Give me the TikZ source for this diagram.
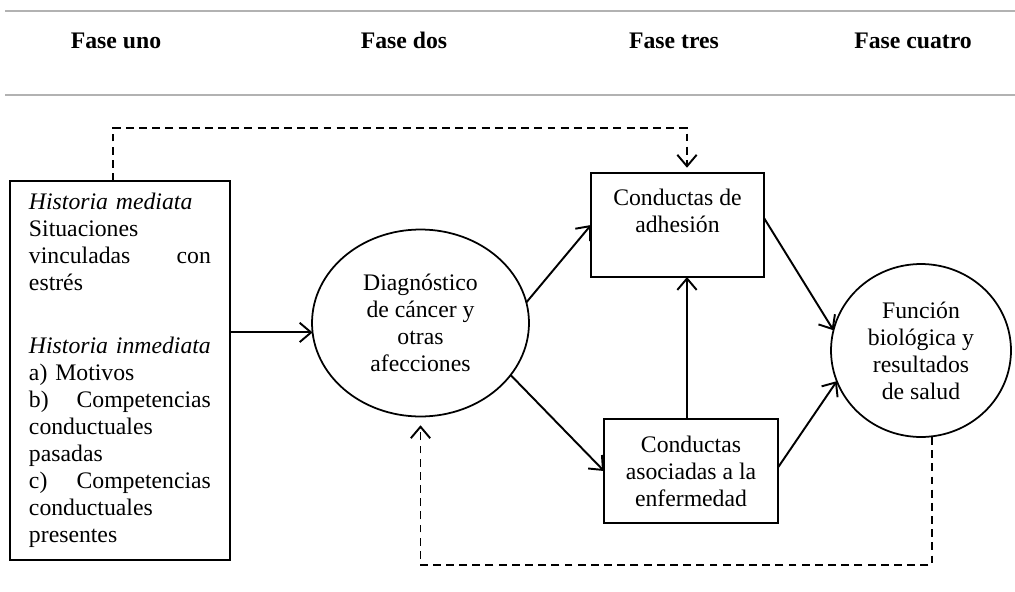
\documentclass[tikz,border=0pt]{standalone}
\usepackage{fontspec}
\setmainfont{Liberation Serif}
\usetikzlibrary{arrows.meta,shapes.geometric}
\begin{document}
\begin{tikzpicture}[x=0.02cm,y=-0.02cm,
  every node/.style={font=\fontsize{13.5}{15.4}\selectfont, inner sep=0pt, outer sep=0pt},
  box/.style={draw, line width=0.9pt, rectangle},
  oval/.style={draw, ellipse, line width=1pt},
  txt/.style={align=center},
  arr/.style={line width=1.1pt, -{Straight Barb[length=6.5pt,width=11pt,line width=1.1pt]}},
  darr/.style={arr, dash pattern=on 4.5pt off 3pt},
  rulel/.style={draw=black!30, line width=1.1pt},
  head/.style={anchor=base, font=\fontsize{13.5}{16}\selectfont\bfseries}]
\useasboundingbox (0,0) rectangle (1015,592);
% header rules
\coordinate (r1a) at (5,11);
\coordinate (r1b) at (1015,11);
\coordinate (r2a) at (5,95);
\coordinate (r2b) at (1015,95);
\draw[rulel] (r1a) -- (r1b);
\draw[rulel] (r2a) -- (r2b);
% headers
\node[head] (h1) at (116,48) {Fase uno};
\node[head] (h2) at (404,48) {Fase dos};
\node[head] (h3) at (674,48) {Fase tres};
\node[head] (h4) at (913,48) {Fase cuatro};
% left box
\node[box, anchor=north west, minimum width=4.4cm, minimum height=7.58cm,
      text width=3.64cm, align=left] (lbox) at (10,181) {%
\textit{Historia mediata}\\
Situaciones\\
\makebox[\linewidth][l]{vinculadas\hfill con}\\
estrés\\[20pt]
\textit{Historia inmediata}\\
a) Motivos\\
\makebox[\linewidth][l]{b)\hfill Competencias}\\
conductuales\\
pasadas\\
\makebox[\linewidth][l]{c)\hfill Competencias}\\
conductuales\\
presentes};
% ellipses
\node[oval, minimum width=4.34cm, minimum height=3.74cm, txt] (diag) at (420.5,323)
  {Diagnóstico\\de cáncer y\\otras\\afecciones};
\node[oval, minimum width=3.6cm, minimum height=3.46cm, txt] (func) at (921,350.5)
  {Función\\biológica y\\resultados\\de salud};
% boxes
\node[box, minimum width=3.46cm, minimum height=2.08cm] (adh) at (677.5,225) {};
\node[txt] (adhtxt) at (677.5,211) {Conductas de\\adhesión};
\node[box, minimum width=3.48cm, minimum height=2.08cm, txt] (asoc) at (691,471)
  {Conductas\\asociadas a la\\enfermedad};
% helper coordinates
\coordinate (vx) at (687,0);
\coordinate (t1) at (113,128);
\coordinate (b1) at (932,565);
% solid arrows
\draw[arr] (lbox.east |- diag.185) -- (diag.185);
\draw[arr] (diag.11) -- (adh.west);
\draw[arr] (diag.-30) -- (asoc.west);
\draw[arr] (asoc.north -| vx) -- (adh.south -| vx);
\draw[arr] ([yshift=4pt]adh.east) -- (func.167);
\draw[arr] ([yshift=2pt]asoc.east) -- (func.200);
% dashed feedback arrows
\draw[darr] (lbox.north -| t1) -- (t1) -| ([yshift=3pt]adh.north -| vx);
\draw[darr] (func.south -| b1) -- (b1) -| ([yshift=-5pt]diag.south);
\end{tikzpicture}
\end{document}
